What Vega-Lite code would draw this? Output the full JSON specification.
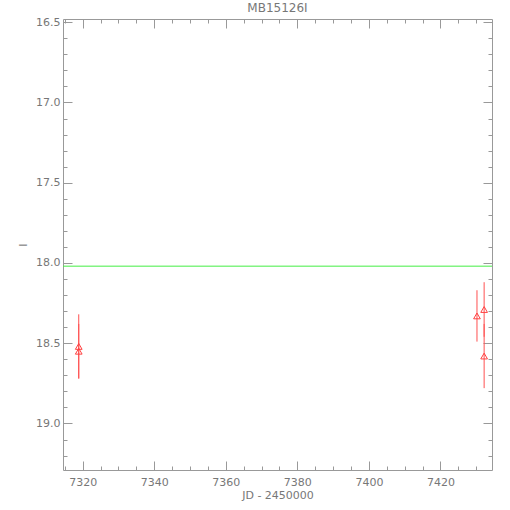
{
  "$schema": "https://vega.github.io/schema/vega-lite/v6.json",
  "width": 429,
  "height": 451,
  "autosize": {"type": "none"},
  "padding": {"left": 63, "top": 19, "right": 18, "bottom": 40},
  "background": "white",
  "title": {"text": "MB15126I", "fontSize": 12, "font": "DejaVu Sans", "fontWeight": "normal", "color": "#777777", "offset": 1},
  "config": {
    "view": {"stroke": null},
    "axis": {"grid": false, "domainColor": "#999999", "tickColor": "#999999", "labelColor": "#777777", "titleColor": "#777777", "labelFont": "DejaVu Sans", "titleFont": "DejaVu Sans", "labelFontSize": 11, "titleFontSize": 11, "titleFontWeight": "normal"}
  },
  "data": {"values": [
    {"jd": 7318.9, "mag": 18.52, "err": 0.2},
    {"jd": 7318.9, "mag": 18.55, "err": 0.17},
    {"jd": 7430.2, "mag": 18.33, "err": 0.16},
    {"jd": 7432.2, "mag": 18.29, "err": 0.17},
    {"jd": 7432.2, "mag": 18.58, "err": 0.2}
  ]},
  "resolve": {"axis": {"x": "independent", "y": "independent"}},
  "layer": [
    {
      "transform": [{"calculate": "datum.mag - datum.err", "as": "lo"}, {"calculate": "datum.mag + datum.err", "as": "hi"}],
      "mark": {"type": "rule", "color": "#ff5050", "strokeWidth": 1},
      "encoding": {
        "x": {"field": "jd", "type": "quantitative", "scale": {"domain": [7314.5, 7434.4], "nice": false, "zero": false},
          "axis": {"orient": "bottom", "values": [7320, 7340, 7360, 7380, 7400, 7420], "format": "d", "tickSize": -9, "labelPadding": 15, "title": "JD - 2450000", "titlePadding": 2, "labelFlush": false}},
        "y": {"field": "lo", "type": "quantitative", "scale": {"domain": [16.48, 19.29], "reverse": true, "nice": false, "zero": false},
          "axis": {"orient": "left", "values": [16.5, 17.0, 17.5, 18.0, 18.5, 19.0], "format": ".1f", "tickSize": -9, "labelPadding": 12, "title": "I", "titleAngle": -90, "titlePadding": 7, "labelFlush": false}},
        "y2": {"field": "hi"}
      }
    },
    {
      "mark": {"type": "point", "shape": "triangle-up", "filled": false, "color": "#ff4040", "size": 45, "strokeWidth": 1, "opacity": 1},
      "encoding": {
        "x": {"field": "jd", "type": "quantitative", "axis": {"orient": "bottom", "values": [7315,7325,7330,7335,7345,7350,7355,7365,7370,7375,7385,7390,7395,7405,7410,7415,7425,7430], "labels": false, "tickSize": -4, "domain": false, "title": null, "maxExtent": 0, "minExtent": 0}},
        "y": {"field": "mag", "type": "quantitative", "axis": {"orient": "left", "values": [16.6,16.7,16.8,16.9,17.1,17.2,17.3,17.4,17.6,17.7,17.8,17.9,18.1,18.2,18.3,18.4,18.6,18.7,18.8,18.9,19.1,19.2], "labels": false, "tickSize": -4, "domain": false, "title": null, "maxExtent": 0, "minExtent": 0}}
      }
    },
    {
      "data": {"values": [{"a": 7314.5, "b": 7434.4, "m": 18.02}]},
      "mark": {"type": "rule", "color": "#44ee44", "strokeWidth": 1},
      "encoding": {
        "x": {"field": "a", "type": "quantitative", "axis": {"orient": "top", "values": [7320, 7340, 7360, 7380, 7400, 7420], "labels": false, "tickSize": -9, "title": null, "labelPadding": 0, "maxExtent": 0, "minExtent": 0}},
        "x2": {"field": "b"},
        "y": {"field": "m", "type": "quantitative", "axis": {"orient": "right", "values": [16.5, 17.0, 17.5, 18.0, 18.5, 19.0], "labels": false, "tickSize": -9, "title": null, "maxExtent": 0, "minExtent": 0}}
      }
    },
    {
      "mark": {"type": "point", "shape": "triangle-up", "filled": false, "color": "#ff4040", "size": 45, "strokeWidth": 1, "opacity": 0},
      "encoding": {
        "x": {"field": "jd", "type": "quantitative", "axis": {"orient": "top", "values": [7315,7325,7330,7335,7345,7350,7355,7365,7370,7375,7385,7390,7395,7405,7410,7415,7425,7430], "labels": false, "tickSize": -4, "domain": false, "title": null, "labelPadding": 0, "maxExtent": 0, "minExtent": 0}},
        "y": {"field": "mag", "type": "quantitative", "axis": {"orient": "right", "values": [16.6,16.7,16.8,16.9,17.1,17.2,17.3,17.4,17.6,17.7,17.8,17.9,18.1,18.2,18.3,18.4,18.6,18.7,18.8,18.9,19.1,19.2], "labels": false, "tickSize": -4, "domain": false, "title": null, "maxExtent": 0, "minExtent": 0}}
      }
    }
  ]
}
